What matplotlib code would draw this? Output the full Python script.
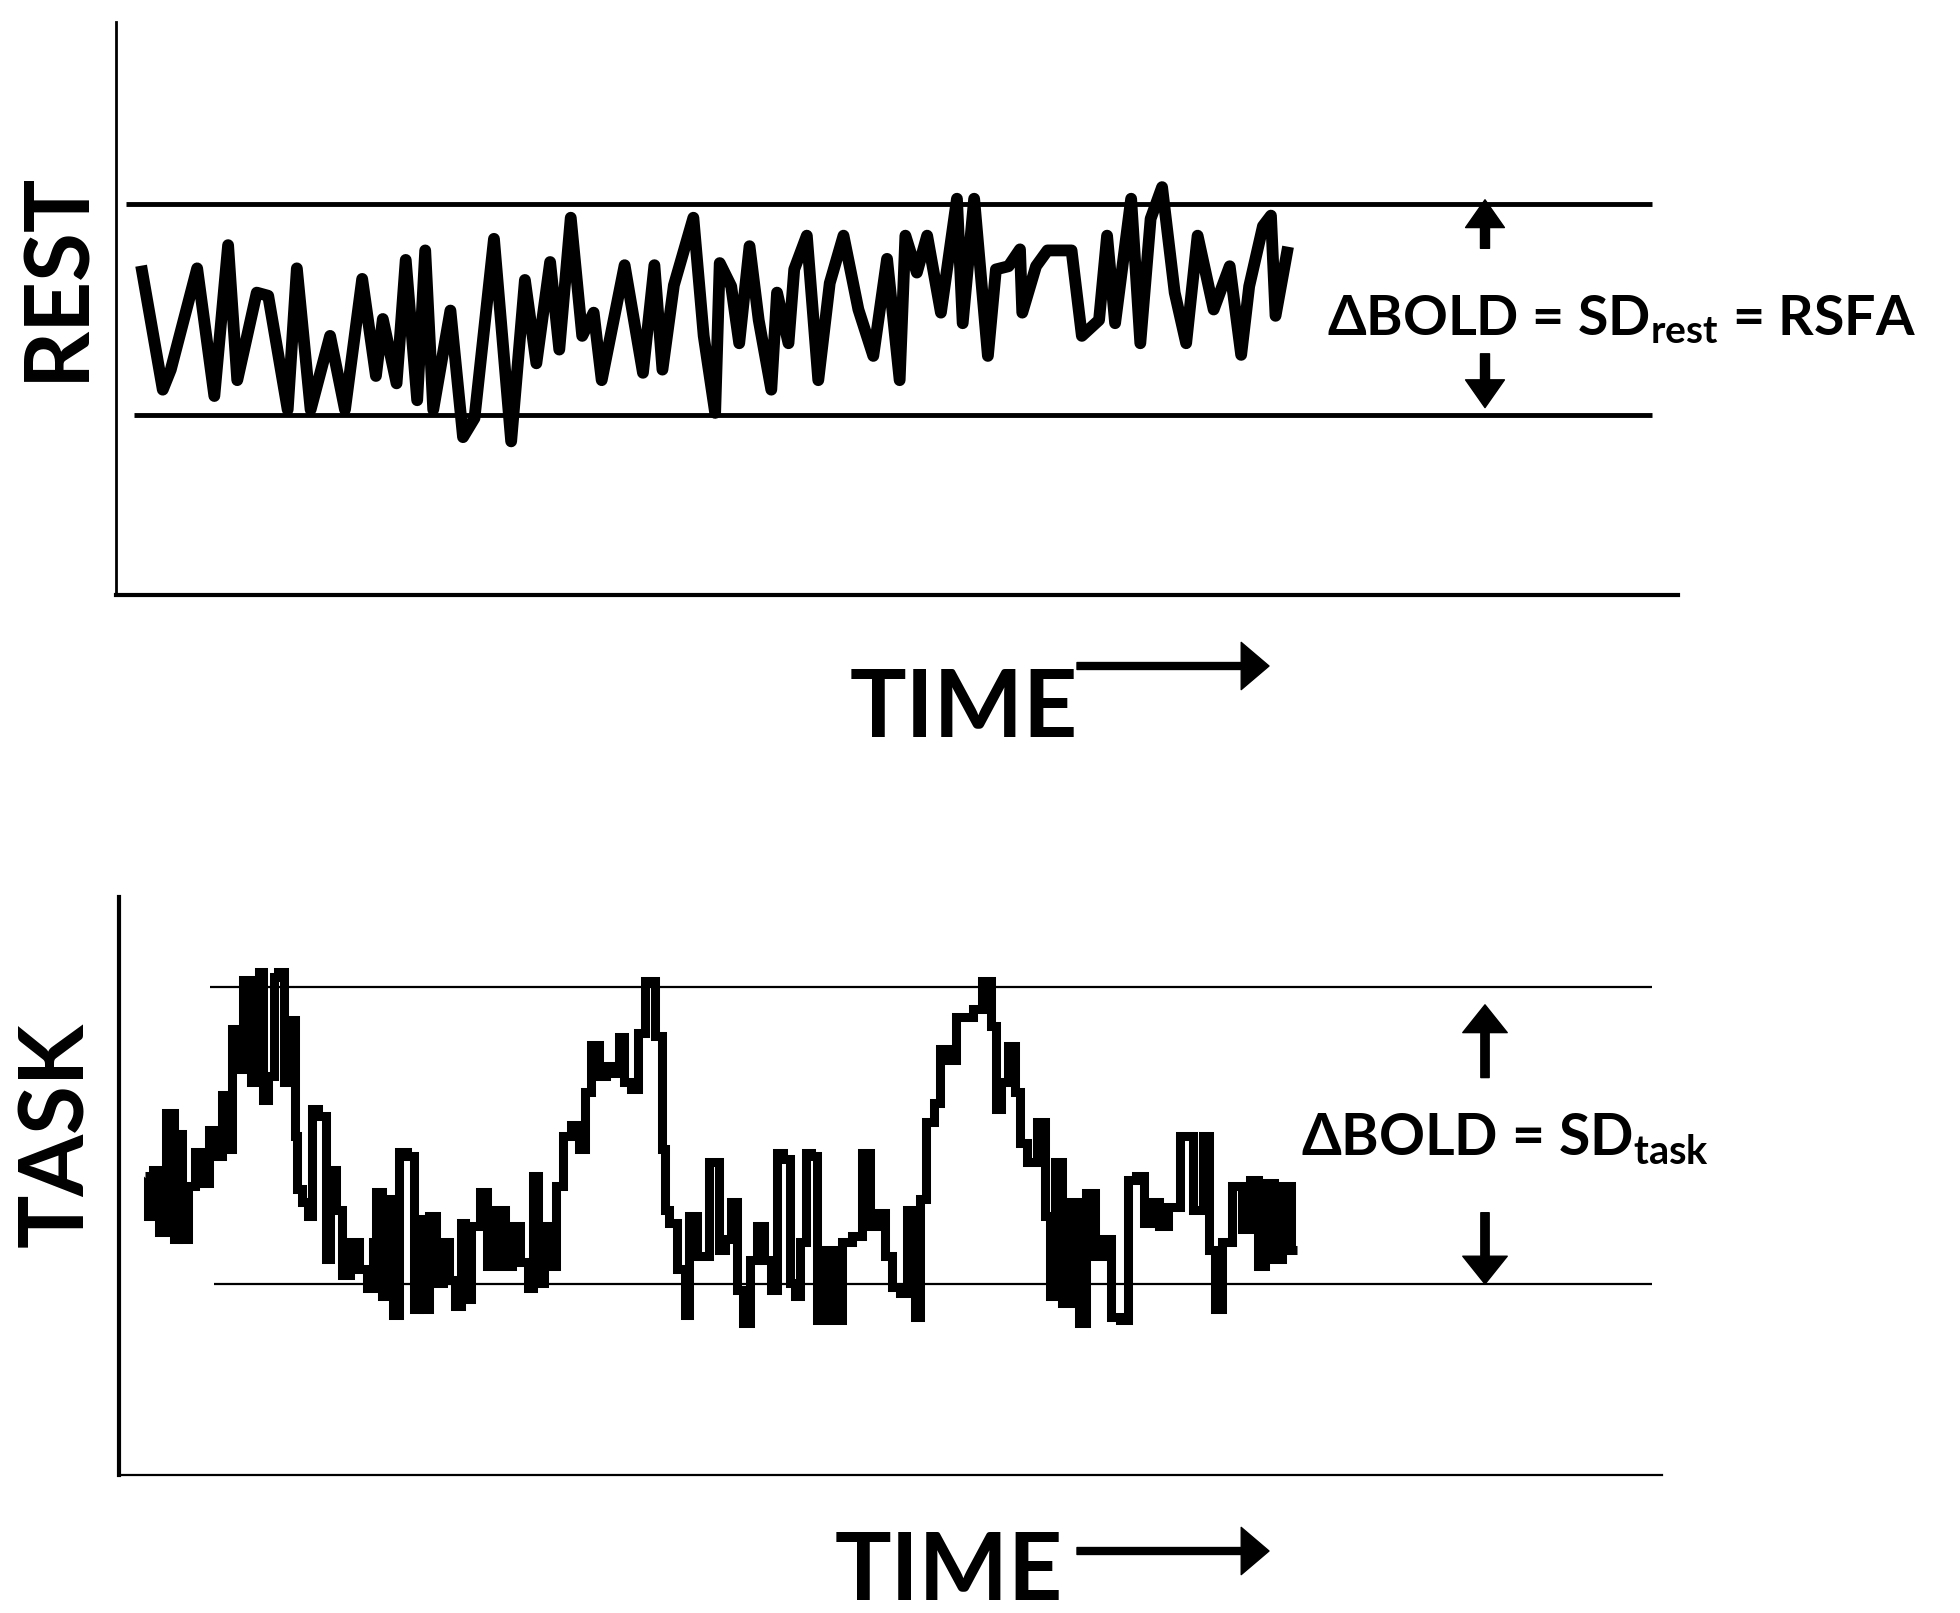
import matplotlib
matplotlib.use('Agg')
from matplotlib import pyplot as plt

# ---- data (time in % of scan, signal in SD units of each run) ----
rest_time = [0.1, 1.9, 2.6, 4.9, 6.4, 7.6, 8.4, 10.1, 11.1, 12.8,
             13.6, 14.8, 16.5, 17.8, 19.3, 20.5, 21.1, 22.3, 23.1, 24.1,
             24.8, 25.5, 27.0, 28.1, 29.1, 30.8, 32.3, 33.5, 34.5, 35.7,
             36.5, 37.5, 38.5, 39.5, 40.2, 42.2, 43.8, 44.8, 45.5, 46.5,
             48.2, 49.1, 50.1, 50.5, 51.5, 52.2, 53.1, 53.9, 55.0, 55.5,
             56.5, 57.0, 58.1, 59.1, 60.1, 61.3, 62.6, 63.9, 65.1, 66.2,
             66.7, 67.7, 68.6, 69.8, 71.2, 71.7, 72.7, 73.9, 74.6, 75.7,
             76.7, 76.9, 78.1, 79.1, 81.2, 82.1, 83.6, 84.3, 85.0, 86.4,
             87.2, 88.1, 89.1, 90.2, 91.2, 92.2, 93.6, 95.0, 96.0, 96.7,
             97.9, 98.6, 99.0, 100.0]
rest_signal = [0.36, -0.76, -0.57, 0.39, -0.82, 0.61, -0.67, 0.16, 0.13, -0.95,
               0.39, -0.95, -0.25, -0.95, 0.29, -0.63, -0.09, -0.70, 0.47, -0.86,
               0.56, -0.95, -0.01, -1.21, -1.03, 0.67, -1.25, 0.28, -0.51, 0.45,
               -0.38, 0.87, -0.25, -0.03, -0.67, 0.42, -0.60, 0.42, -0.57, 0.23,
               0.87, -0.25, -0.98, 0.44, 0.22, -0.32, 0.60, -0.10, -0.76, 0.16,
               -0.32, 0.38, 0.70, -0.67, 0.25, 0.70, 0.0, -0.44, 0.48, -0.67,
               0.70, 0.35, 0.70, -0.03, 1.05, -0.13, 1.05, -0.44, 0.38, 0.41,
               0.57, -0.03, 0.41, 0.56, 0.56, -0.25, -0.10, 0.70, -0.13, 1.05,
               -0.32, 0.86, 1.16, 0.16, -0.32, 0.70, 0.0, 0.41, -0.43, 0.22,
               0.79, 0.89, -0.06, 0.54]

task_time = [0.1, 0.56, 1.07, 1.56, 2.23, 2.89, 3.06, 3.56, 4.05, 4.72,
             5.38, 5.88, 6.71, 6.88, 7.54, 7.71, 8.37, 8.87, 9.70, 10.20,
             10.36, 11.19, 11.36, 11.86, 12.36, 13.02, 13.19, 13.35, 14.01, 14.52,
             14.68, 15.51, 16.01, 16.34, 17.01, 17.34, 18.33, 19.00, 19.66, 19.99,
             20.33, 20.99, 21.32, 21.82, 22.48, 23.15, 23.64, 23.98, 24.48, 24.97,
             25.64, 26.30, 26.64, 27.30, 27.64, 27.97, 28.79, 29.46, 30.12, 30.95,
             31.62, 32.28, 32.95, 33.61, 33.94, 34.44, 34.93, 35.44, 36.10, 36.60,
             37.42, 38.09, 38.42, 39.09, 39.75, 40.42, 40.91, 41.42, 41.91, 42.58,
             43.07, 43.90, 44.73, 45.07, 45.23, 45.89, 46.56, 47.23, 47.39, 48.55,
             49.40, 50.26, 50.60, 51.29, 51.63, 52.31, 52.83, 53.52, 54.03, 54.72,
             55.06, 55.75, 56.26, 56.61, 57.12, 57.63, 58.15, 58.66, 59.35, 60.21,
             60.89, 61.93, 62.61, 63.30, 63.98, 64.49, 65.18, 65.87, 66.55, 67.24,
             67.41, 68.27, 68.78, 69.30, 70.16, 70.67, 71.53, 72.22, 73.08, 73.76,
             74.10, 74.62, 75.30, 75.82, 76.16, 77.02, 77.87, 78.39, 78.73, 79.25,
             79.93, 80.79, 81.31, 82.16, 82.85, 83.54, 84.22, 85.08, 85.60, 86.45,
             86.97, 87.65, 88.34, 89.37, 90.40, 91.60, 92.12, 92.63, 93.15, 93.83,
             94.86, 95.55, 96.23, 96.92, 97.61, 98.46, 98.98, 100.0]
task_signal = [-0.27, -0.54, -0.23, -0.65, 0.15, -0.70, 0.01, -0.70, -0.34, -0.11,
               -0.32, 0.04, -0.14, 0.27, -0.09, 0.72, 0.45, 1.05, 0.36, 1.10,
               0.24, 0.40, 1.07, 1.10, 0.36, 0.78, 0.0, -0.36, -0.45, -0.54,
               0.18, 0.13, -0.83, -0.23, -0.50, -0.94, -0.72, -0.90, -1.03, -0.72,
               -0.38, -1.08, -0.43, -1.21, -0.11, -0.14, -1.17, -0.56, -1.17, -0.54,
               -0.99, -0.72, -0.97, -1.15, -0.59, -1.10, -0.61, -0.38, -0.88, -0.50,
               -0.88, -0.61, -0.85, -1.03, -0.27, -0.99, -0.61, -0.88, -0.34, 0.0,
               0.07, -0.09, 0.29, 0.61, 0.40, 0.47, 0.42, 0.66, 0.36, 0.31,
               0.69, 1.04, 0.67, -0.09, -0.50, -0.59, -0.90, -1.21, -0.54, -0.81,
               -0.18, -0.77, -0.70, -0.45, -1.04, -1.26, -0.84, -0.61, -0.84, -1.04,
               -0.12, -0.16, -0.99, -1.08, -0.72, -0.12, -0.14, -1.24, -0.77, -1.24,
               -0.72, -0.68, -0.12, -0.61, -0.52, -0.81, -1.02, -1.06, -0.50, -1.22,
               -0.43, 0.09, 0.22, 0.58, 0.51, 0.80, 0.80, 0.85, 1.04, 0.74,
               0.18, 0.36, 0.60, 0.29, -0.05, -0.18, 0.09, -0.54, -1.08, -0.18,
               -1.13, -0.45, -1.26, -0.39, -0.81, -0.70, -1.22, -1.24, -0.30, -0.27,
               -0.59, -0.45, -0.61, -0.48, 0.0, -0.50, 0.0, -0.77, -1.17, -0.72,
               -0.34, -0.63, -0.30, -0.88, -0.32, -0.83, -0.34, -0.77]

sd_band = 1.0  # band lines drawn at +/- 1 SD

plt.rcParams['font.family'] = ['Lato', 'DejaVu Sans']
plt.rcParams['font.weight'] = 'bold'
plt.rcParams['mathtext.fontset'] = 'custom'
plt.rcParams['mathtext.rm'] = 'Lato:bold'
plt.rcParams['mathtext.it'] = 'Lato:bold'
plt.rcParams['mathtext.bf'] = 'Lato:bold'

W, H = 1960, 1613
fig = plt.figure(figsize=(W / 100, H / 100), dpi=100)


def fx(x):
    return x / W


def fy(y):
    return 1 - y / H


def make_panel(box, t_px, band_px, band_x0, band_lw, lw_left, lw_bottom):
    # box = (left, top, right, bottom) in pixels, t_px = pixel x of t=0 and t=100,
    # band_px = pixel y of +1 SD and -1 SD
    left, top, right, bottom = box
    ax = fig.add_axes([fx(left), fy(bottom), (right - left) / W, (bottom - top) / H])
    sx = (t_px[1] - t_px[0]) / 100.0
    sy = (band_px[1] - band_px[0]) / 2.0
    cy = (band_px[0] + band_px[1]) / 2.0
    ax.set_xlim((left - t_px[0]) / sx, (right - t_px[0]) / sx)
    ax.set_ylim((cy - bottom) / sy, (cy - top) / sy)
    for s in ['top', 'right']:
        ax.spines[s].set_visible(False)
    ax.spines['left'].set_linewidth(lw_left)
    ax.spines['bottom'].set_linewidth(lw_bottom)
    ax.set_xticks([])
    ax.set_yticks([])
    x_end = (1652 - t_px[0]) / sx
    ax.hlines(sd_band, (band_x0[0] - t_px[0]) / sx, x_end, color='black', lw=band_lw)
    ax.hlines(-sd_band, (band_x0[1] - t_px[0]) / sx, x_end, color='black', lw=band_lw)
    return ax, sx, sy


# REST panel
ax1, sx1, sy1 = make_panel((116, 22, 1678, 595), (141, 1287), (204, 415),
                           (126, 134), 3.5, 2.0, 3.0)
ax1.plot(rest_time, rest_signal, color='black', lw=8.5, solid_joinstyle='round')

# TASK panel
ax2, sx2, sy2 = make_panel((119, 897, 1662, 1475), (144, 1297), (987, 1284),
                           (210, 214), 1.6, 3.0, 1.6)
ax2.plot(task_time, task_signal, color='black', lw=6.5, drawstyle='steps-mid',
         solid_joinstyle='miter', solid_capstyle='butt')

# SD arrows
arrow_x1 = (1485 - 141) / sx1
ax1.annotate('', xy=(arrow_x1, 1.04), xytext=(arrow_x1, 0.58),
             arrowprops=dict(width=6.5, headwidth=28, headlength=20, color='black', shrink=0))
ax1.annotate('', xy=(arrow_x1, -0.93), xytext=(arrow_x1, -0.42),
             arrowprops=dict(width=6.5, headwidth=28, headlength=20, color='black', shrink=0))
arrow_x2 = (1485 - 144) / sx2
ax2.annotate('', xy=(arrow_x2, 0.88), xytext=(arrow_x2, 0.39),
             arrowprops=dict(width=6, headwidth=32, headlength=20, color='black', shrink=0))
ax2.annotate('', xy=(arrow_x2, -1.0), xytext=(arrow_x2, -0.52),
             arrowprops=dict(width=6, headwidth=32, headlength=20, color='black', shrink=0))

# labels
fig.text(fx(1327), fy(335), r'ΔBOLD = SD$_{rest}$ = RSFA', fontsize=40,
         fontweight='bold', va='baseline', ha='left')
fig.text(fx(1301), fy(1155), r'ΔBOLD = SD$_{task}$', fontsize=41,
         fontweight='bold', va='baseline', ha='left')

fig.text(fx(57), fy(276), 'REST', rotation=90, fontsize=64, fontweight='bold',
         ha='center', va='center')
fig.text(fx(57), fy(1135), 'TASK', rotation=90, fontsize=64, fontweight='bold',
         ha='center', va='center')

for tx, ty, ay in [(850, 737, 666), (835, 1600, 1551)]:
    fig.text(fx(tx), fy(ty), 'TIME', fontsize=68, fontweight='bold',
             va='baseline', ha='left')
    fig.add_artist(plt.Annotation('', xy=(fx(1269), fy(ay)), xytext=(fx(1077), fy(ay)),
                                  xycoords='figure fraction', textcoords='figure fraction',
                                  arrowprops=dict(width=5, headwidth=34, headlength=20,
                                                  color='black', shrink=0)))

fig.savefig('out.png', dpi=100)
